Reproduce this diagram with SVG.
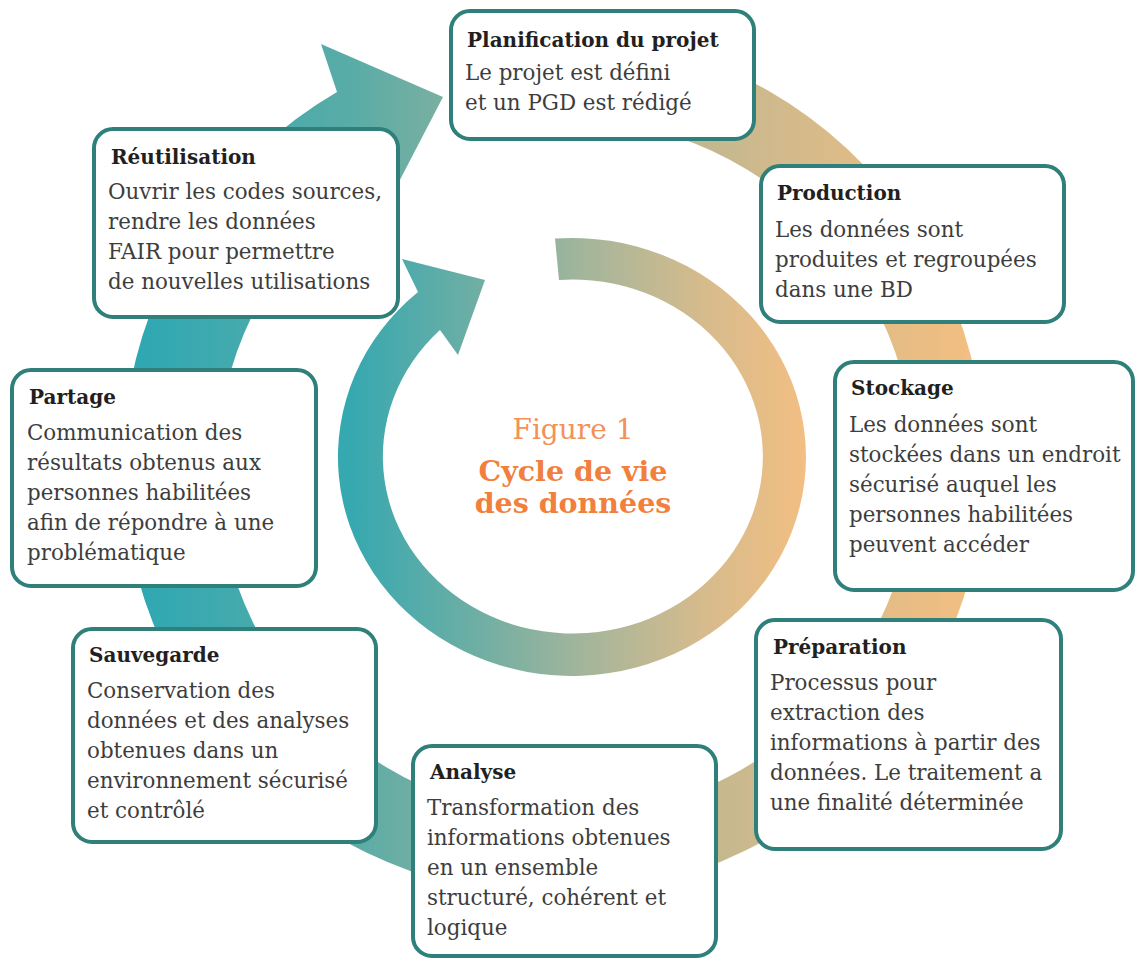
<svg xmlns="http://www.w3.org/2000/svg" width="1135" height="959" viewBox="0 0 1135 959">
  <style>
    .box { fill: #ffffff; stroke: #2f807b; stroke-width: 4; }
    .t { font-family: "DejaVu Serif", "Liberation Serif", serif; font-weight: bold; font-size: 20px; fill: #231f20; }
    .b { font-family: "DejaVu Serif", "Liberation Serif", serif; font-size: 21.4px; fill: #3d3d3d; }
    .fig { font-family: "DejaVu Serif", "Liberation Serif", serif; font-size: 28px; fill: #f39157; text-anchor: middle; }
    .ttl { font-family: "DejaVu Serif", "Liberation Serif", serif; font-weight: bold; font-size: 28.5px; fill: #f27f3d; text-anchor: middle; }
  </style>
  <defs>
    <linearGradient id="gOuter" gradientUnits="userSpaceOnUse" x1="140" y1="0" x2="995" y2="0">
      <stop offset="0" stop-color="#2fa8b2"/>
      <stop offset="0.25" stop-color="#5aaca7"/>
      <stop offset="0.4" stop-color="#88b19e"/>
      <stop offset="0.55" stop-color="#adb596"/>
      <stop offset="0.72" stop-color="#cdb98d"/>
      <stop offset="1" stop-color="#f7bf80"/>
    </linearGradient>
    <linearGradient id="gInner" gradientUnits="userSpaceOnUse" x1="348" y1="0" x2="817" y2="0">
      <stop offset="0" stop-color="#35a8b0"/>
      <stop offset="0.3" stop-color="#74afa3"/>
      <stop offset="0.5" stop-color="#a3b59b"/>
      <stop offset="0.75" stop-color="#d5bb8d"/>
      <stop offset="1" stop-color="#f5bf82"/>
    </linearGradient>
  </defs>

  <g id="connectors">
    <path id="outer-cycle" fill="url(#gOuter)" d="M 677.6,51.7 A 431 431 0 1 1 337,92 L 321,44 L 443,97 L 390,199 L 384.7,169.8 A 349 349 0 1 0 656.3,130.9 Z"/>
    <path id="inner-cycle" fill="url(#gInner)" d="M 555,238.5 A 234 219 0 1 1 418,292 L 402,259 L 485,280 L 458,355 L 440,330 A 190 177 0 1 0 559,280 Z"/>
  </g>

  <g id="center-title">
    <text class="fig" x="573" y="439">Figure 1</text>
    <text class="ttl" x="573" y="481">Cycle de vie</text>
    <text class="ttl" x="573" y="513">des données</text>
  </g>

  <g id="planification">
    <rect class="box" x="451" y="11" width="303" height="128" rx="19"/>
    <text class="t" x="467" y="47">Planification du projet</text>
    <text class="b" x="465" y="80">Le projet est défini</text>
    <text class="b" x="465" y="110">et un PGD est rédigé</text>
  </g>

  <g id="production">
    <rect class="box" x="761" y="166" width="303" height="156" rx="19"/>
    <text class="t" x="777" y="200">Production</text>
    <text class="b" x="775" y="237">Les données sont</text>
    <text class="b" x="775" y="267">produites et regroupées</text>
    <text class="b" x="775" y="297">dans une BD</text>
  </g>

  <g id="stockage">
    <rect class="box" x="835" y="362" width="298" height="228" rx="19"/>
    <text class="t" x="851" y="395">Stockage</text>
    <text class="b" x="849" y="432">Les données sont</text>
    <text class="b" x="849" y="462">stockées dans un endroit</text>
    <text class="b" x="849" y="492">sécurisé auquel les</text>
    <text class="b" x="849" y="522">personnes habilitées</text>
    <text class="b" x="849" y="552">peuvent accéder</text>
  </g>

  <g id="preparation">
    <rect class="box" x="756" y="620" width="305" height="229" rx="19"/>
    <text class="t" x="773" y="654">Préparation</text>
    <text class="b" x="770" y="690">Processus pour</text>
    <text class="b" x="770" y="720">extraction des</text>
    <text class="b" x="770" y="750">informations à partir des</text>
    <text class="b" x="770" y="780">données. Le traitement a</text>
    <text class="b" x="770" y="810">une finalité déterminée</text>
  </g>

  <g id="analyse">
    <rect class="box" x="413" y="746" width="303" height="210" rx="19"/>
    <text class="t" x="430" y="779">Analyse</text>
    <text class="b" x="427" y="815">Transformation des</text>
    <text class="b" x="427" y="845">informations obtenues</text>
    <text class="b" x="427" y="875">en un ensemble</text>
    <text class="b" x="427" y="905">structuré, cohérent et</text>
    <text class="b" x="427" y="935">logique</text>
  </g>

  <g id="sauvegarde">
    <rect class="box" x="73" y="629" width="303" height="213" rx="19"/>
    <text class="t" x="89" y="662">Sauvegarde</text>
    <text class="b" x="87" y="698">Conservation des</text>
    <text class="b" x="87" y="728">données et des analyses</text>
    <text class="b" x="87" y="758">obtenues dans un</text>
    <text class="b" x="87" y="788">environnement sécurisé</text>
    <text class="b" x="87" y="818">et contrôlé</text>
  </g>

  <g id="partage">
    <rect class="box" x="12" y="370" width="304" height="216" rx="19"/>
    <text class="t" x="29" y="404">Partage</text>
    <text class="b" x="27" y="440">Communication des</text>
    <text class="b" x="27" y="470">résultats obtenus aux</text>
    <text class="b" x="27" y="500">personnes habilitées</text>
    <text class="b" x="27" y="530">afin de répondre à une</text>
    <text class="b" x="27" y="560">problématique</text>
  </g>

  <g id="reutilisation">
    <rect class="box" x="94" y="129" width="304" height="188" rx="19"/>
    <text class="t" x="111" y="164">Réutilisation</text>
    <text class="b" x="108" y="199">Ouvrir les codes sources,</text>
    <text class="b" x="108" y="229">rendre les données</text>
    <text class="b" x="108" y="259">FAIR pour permettre</text>
    <text class="b" x="108" y="289">de nouvelles utilisations</text>
  </g>
</svg>
